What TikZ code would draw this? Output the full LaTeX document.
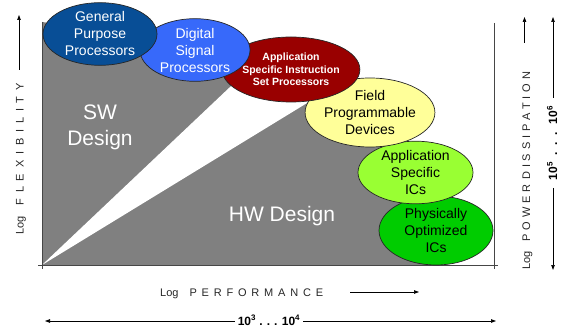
\documentclass[tikz,border=0pt]{standalone}
\usepackage{fontspec}
\setmainfont{Liberation Sans}
\usetikzlibrary{arrows.meta,shapes.geometric}

\definecolor{gppblue}{RGB}{8,78,150}
\definecolor{dspblue}{RGB}{55,105,250}
\definecolor{asipred}{RGB}{153,0,0}
\definecolor{fpgayel}{RGB}{255,255,153}
\definecolor{asicgrn}{RGB}{153,255,51}
\definecolor{physgrn}{RGB}{0,204,0}
\definecolor{areagray}{RGB}{128,128,128}
\definecolor{axisgray}{RGB}{70,70,70}

\begin{document}
\begin{tikzpicture}[x=1pt,y=-1pt,
  bubble/.style={ellipse, draw=black!85, line width=0.7pt, align=center,
    inner sep=0pt, font=\fontsize{14}{17}\selectfont},
  areatext/.style={text=white, inner sep=0pt, font=\fontsize{21}{24}\selectfont},
  axislabel/.style={inner sep=0pt, text=black!85, font=\fontsize{11}{13}\selectfont},
  rangelabel/.style={inner sep=0pt, font=\fontsize{12}{14}\selectfont\bfseries},
  axisline/.style={draw=axisgray, line width=0.8pt},
  arr/.style={draw=black, line width=0.7pt, -{Triangle[length=5pt,width=3.5pt]}}
]
\useasboundingbox (0,0) rectangle (561,328);

% design-space area and the gap between software and hardware design
\fill[areagray] (42,22) -- (100,30) -- (195,50) -- (291,69) -- (370,112)
  -- (415,172) -- (436,230) -- (436,265) -- (42,265) -- cycle;
\fill[white] (42,265) -- (248,70) -- (330,89) -- cycle;

% axes
\draw[axisline] (42,22) -- (42,269);
\draw[axisline] (38,265) -- (498,265);
\draw[axisline] (494,23) -- (494,269);

% implementation styles, lower ones drawn first
\node[bubble, fill=physgrn, minimum width=114pt, minimum height=69pt] (phys) at (436,230.5)
  {Physically\\Optimized\\ICs};
\node[bubble, fill=asicgrn, minimum width=115pt, minimum height=60pt] (asic) at (415.5,172.5)
  {Application\\Specific\\ICs};
\node[bubble, fill=fpgayel, minimum width=114pt, minimum height=69pt] (fpga) at (370,112.5)
  {Field\\Programmable\\Devices};
\node[bubble, fill=asipred, text=white, minimum width=114pt, minimum height=65pt,
  font=\fontsize{10.5}{12.5}\selectfont\bfseries] (asip) at (291,69.5)
  {Application\\Specific Instruction\\Set Processors};
\node[bubble, fill=dspblue, text=white, minimum width=110pt, minimum height=62pt] (dsp) at (195,50)
  {Digital\\Signal\\Processors};
\node[bubble, fill=gppblue, text=white, minimum width=114pt, minimum height=60pt] (gpp) at (100,34)
  {General\\Purpose\\Processors};

% area captions
\node[areatext] (sw) at (100,112) {SW};
\node[areatext] (swd) at (100,140) {Design};
\node[areatext] (hw) at (282,216) {HW Design};

% axis captions
\node[axislabel, rotate=90, anchor=base west] (flex) at (23.5,235)
  {Log\hspace{11pt}{\spaceskip=5.8pt\relax F L E X I B I L I T Y}};
\coordinate (flextail) at (19,70);
\coordinate (flextip) at (19,15);
\draw[arr] (flextail) -- (flextip);

\node[axislabel, anchor=base west] (perf) at (160,296)
  {Log\hspace{11pt}{\spaceskip=4.8pt\relax P E R F O R M A N C E}};
\coordinate (perftail) at (350,292);
\coordinate (perftip) at (419,292);
\draw[arr] (perftail) -- (perftip);

\node[axislabel, rotate=90, anchor=base west] (power) at (530,270)
  {Log\hspace{10pt}{\spaceskip=3.8pt\relax P O W E R\hspace{5pt}D I S S I P A T I O N}};
\coordinate (powtail) at (524.5,43);
\coordinate (powtip) at (524.5,17);
\draw[arr] (powtail) -- (powtip);

% ranges
\node[rangelabel, anchor=base] (hrange) at (269,325)
  {10\textsuperscript{3} .\,\,.\,\,. 10\textsuperscript{4}};
\coordinate (hleft) at (45,321);
\coordinate (hright) at (496,321);
\draw[arr] ([xshift=-3pt]hrange.west |- hleft) -- (hleft);
\draw[arr] ([xshift=3pt]hrange.east |- hright) -- (hright);

\node[rangelabel, rotate=90, anchor=base] (vrange) at (557,143)
  {10\textsuperscript{5} \ .\ \ .\ \ . \ 10\textsuperscript{6}};
\coordinate (vuptail) at (553,98);
\coordinate (vtop) at (553,17);
\coordinate (vdowntail) at (553,188);
\coordinate (vbot) at (553,270);
\draw[arr] (vuptail) -- (vtop);
\draw[arr] (vdowntail) -- (vbot);
\end{tikzpicture}
\end{document}
